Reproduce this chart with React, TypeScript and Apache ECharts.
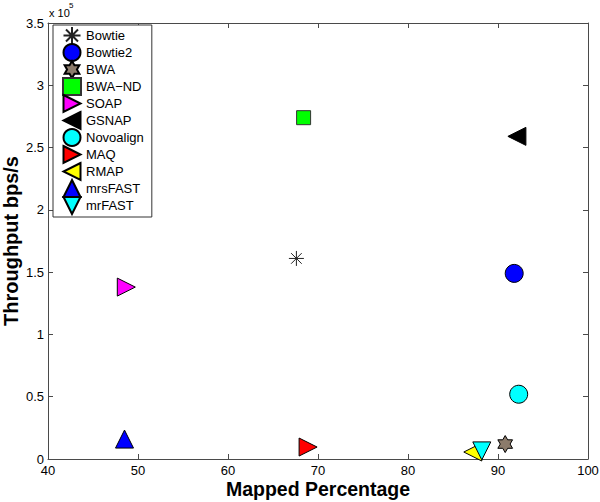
import React, { useEffect, useRef } from "react";
import * as echarts from "echarts";

const tools = ["Bowtie", "Bowtie2", "BWA", "BWA\u2212ND", "SOAP", "GSNAP", "Novoalign", "MAQ", "RMAP", "mrsFAST", "mrFAST"];
const mappedPct = [67.6, 91.8, 90.8, 68.4, 48.7, 92.1, 92.3, 68.9, 87.2, 48.5, 88.2];
const throughput = [161000, 149000, 12000, 274000, 138000, 259000, 52000, 9600, 5600, 16000, 6500];
const xTicks = { min: 40, max: 100, step: 10 };
const yTicks = { min: 0, max: 350000, step: 50000 };

const ASTERISK = "path://M0,-10L0,10M-10,0L10,0M-7.07,-7.07L7.07,7.07M-7.07,7.07L7.07,-7.07";
const HEXAGRAM = "path://M0,-10L2.887,-5L8.66,-5L5.774,0L8.66,5L2.887,5L0,10L-2.887,5L-8.66,5L-5.774,0L-8.66,-5L-2.887,-5Z";
const TRI_R = "path://M0,0L10,5L0,10Z";
const TRI_L = "path://M10,0L0,5L10,10Z";
const TRI_U = "path://M5,0L10,10L0,10Z";
const TRI_D = "path://M0,0L10,0L5,10Z";

const markerStyles = [
  { symbol: ASTERISK, size: 15, color: "rgba(0,0,0,0)", border: "#222" },
  { symbol: "circle", size: 18, color: "#0000ff", border: "#000" },
  { symbol: HEXAGRAM, size: 17, color: "#8c7b6b", border: "#000" },
  { symbol: "rect", size: 14, color: "#00ff00", border: "#333" },
  { symbol: TRI_R, size: 18, color: "#ff00ff", border: "#000" },
  { symbol: TRI_L, size: 18, color: "#000000", border: "#000" },
  { symbol: "circle", size: 18, color: "#00ffff", border: "#000" },
  { symbol: TRI_R, size: 18, color: "#ff0000", border: "#000" },
  { symbol: TRI_L, size: 18, color: "#ffff00", border: "#000" },
  { symbol: TRI_U, size: 18, color: "#0000ff", border: "#000" },
  { symbol: TRI_D, size: 18, color: "#00ffff", border: "#000" },
];

const FONT = "Liberation Sans, Arial, Helvetica, sans-serif";
const AXIS_COLOR = "#4a4a4a";

export default function App() {
  const ref = useRef<HTMLDivElement>(null);
  useEffect(() => {
    if (!ref.current) return;
    const chart = echarts.init(ref.current, undefined, { renderer: "svg" });
    const axisCommon = {
      type: "value" as const,
      splitLine: { show: false },
      axisLine: { show: true, onZero: false, lineStyle: { color: AXIS_COLOR, width: 1 } },
      axisTick: { show: true, inside: true, length: 5, lineStyle: { color: AXIS_COLOR } },
    };
    chart.setOption({
      animation: false,
      backgroundColor: "#fff",
      textStyle: { fontFamily: FONT },
      grid: { left: 48, right: 12, top: 23, bottom: 43, containLabel: false, outerBoundsMode: "none" },
      xAxis: [
        {
          ...axisCommon,
          position: "bottom",
          min: xTicks.min,
          max: xTicks.max,
          interval: xTicks.step,
          axisLabel: { color: "#000", fontSize: 13, fontFamily: FONT, margin: 5 },
          name: "Mapped Percentage",
          nameLocation: "middle",
          nameGap: 20,
          nameMoveOverlap: false,
          nameTextStyle: { color: "#000", fontSize: 19.5, fontWeight: "bold", fontFamily: FONT },
        },
        {
          ...axisCommon,
          position: "top",
          min: xTicks.min,
          max: xTicks.max,
          interval: xTicks.step,
          axisLabel: { show: false },
        },
      ],
      yAxis: [
        {
          ...axisCommon,
          position: "left",
          min: yTicks.min,
          max: yTicks.max,
          interval: yTicks.step,
          axisLabel: {
            color: "#000",
            fontSize: 13,
            fontFamily: FONT,
            margin: 4,
            formatter: (v: number) => String(v / 100000),
          },
          name: "Throughput bps/s",
          nameLocation: "middle",
          nameGap: 27,
          nameMoveOverlap: false,
          nameTextStyle: { color: "#000", fontSize: 20, fontWeight: "bold", fontFamily: FONT },
        },
        {
          ...axisCommon,
          position: "right",
          min: yTicks.min,
          max: yTicks.max,
          interval: yTicks.step,
          axisLabel: { show: false },
        },
      ],
      legend: {
        orient: "vertical",
        left: 53,
        top: 25,
        padding: [1, 8, 2, 9],
        itemWidth: 18,
        itemHeight: 17,
        itemGap: -2,
        itemTextGap: 7,
        borderColor: "#333",
        borderWidth: 1,
        backgroundColor: "#fff",
        textStyle: { color: "#000", fontSize: 13, lineHeight: 15, fontFamily: FONT },
        data: tools,
      },
      graphic: [
        { type: "text", left: 49, top: 7, style: { text: "x 10", fontSize: 11, fontFamily: FONT, fill: "#000" } },
        { type: "text", left: 69, top: 1, style: { text: "5", fontSize: 8, fontFamily: FONT, fill: "#000" } },
      ],
      series: tools.map((name, i) => ({
        type: "scatter",
        name,
        xAxisIndex: 0,
        yAxisIndex: 0,
        symbol: markerStyles[i].symbol,
        symbolSize: markerStyles[i].size,
        symbolKeepAspect: true,
        itemStyle: {
          color: markerStyles[i].color,
          borderColor: markerStyles[i].border,
          borderWidth: 1,
          opacity: 1,
        },
        emphasis: { disabled: true },
        data: [[mappedPct[i], throughput[i]]],
      })),
    });
    return () => chart.dispose();
  }, []);
  return (
    <div
      ref={ref}
      style={{ position: "absolute", left: 0, top: 0, width: 600, height: 502 }}
    />
  );
}
